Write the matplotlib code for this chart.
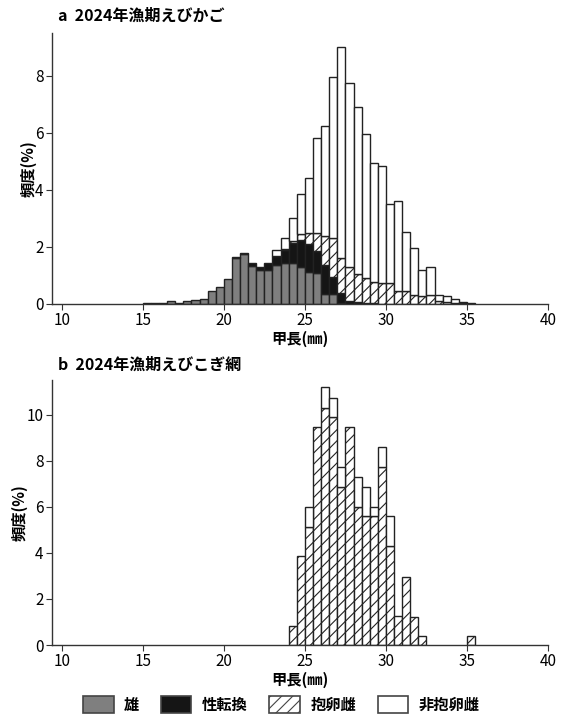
import numpy as np
import matplotlib
matplotlib.use("Agg")
import matplotlib.pyplot as plt
from matplotlib.patches import Patch

plt.rcParams['font.family'] = ['Noto Sans CJK JP', 'DejaVu Sans']
plt.rcParams['hatch.linewidth'] = 0.8

# a: えびかご, bins of 0.5 mm starting at 15.0
binsA = np.arange(15.0, 35.01, 0.5)
maleA = [0.05, 0.05, 0.02, 0.09, 0.04, 0.10, 0.14, 0.16, 0.45, 0.60, 0.89,
         1.62, 1.75, 1.34, 1.19, 1.19, 1.38, 1.45, 1.45, 1.28, 1.13, 1.08,
         0.35, 0.35, 0.05, 0, 0, 0, 0, 0, 0, 0, 0, 0, 0, 0, 0, 0, 0, 0, 0]
transA = [0, 0, 0, 0, 0, 0, 0, 0, 0, 0, 0,
          0.03, 0.04, 0.08, 0.11, 0.25, 0.30, 0.45, 0.70, 0.98, 0.99, 0.77,
          1.00, 0.61, 0.35, 0.12, 0.08, 0.05, 0.02, 0, 0, 0, 0, 0, 0, 0, 0, 0, 0, 0, 0]
ovigA = [0, 0, 0, 0, 0, 0, 0, 0, 0, 0, 0,
         0, 0, 0, 0, 0, 0, 0.02, 0.05, 0.19, 0.38, 0.65,
         1.03, 1.37, 1.22, 1.16, 0.97, 0.85, 0.74, 0.72, 0.72, 0.45, 0.45, 0.31,
         0.27, 0.30, 0.10, 0.07, 0.03, 0.02, 0]
nonovigA = [0, 0, 0, 0, 0, 0, 0, 0, 0, 0, 0,
            0, 0, 0, 0, 0, 0.21, 0.39, 0.82, 1.42, 1.92, 3.33,
            3.86, 5.62, 7.40, 6.49, 5.87, 5.07, 4.19, 4.12, 2.78, 3.16, 2.06, 1.64,
            0.92, 0.98, 0.21, 0.22, 0.14, 0.06, 0.02]

# b: えびこぎ網, bins of 0.5 mm starting at 24.0
binsB = np.arange(24.0, 35.01, 0.5)
ovigB = [0.83, 3.86, 5.14, 9.45, 10.29, 9.88, 6.86, 9.45, 6.01, 5.58, 5.58,
         7.72, 4.28, 1.26, 2.97, 1.23, 0.39, 0, 0, 0, 0, 0, 0.39]
nonovigB = [0, 0, 0.87, 0, 0.90, 0.84, 0.86, 0, 1.27, 1.28, 0.43,
            0.86, 1.30, 0, 0, 0, 0, 0, 0, 0, 0, 0, 0]

labels = ['雄', '性転換', '抱卵雌', '非抱卵雌']
styles = [dict(facecolor='#7f7f7f', hatch=None),
          dict(facecolor='#151515', hatch=None),
          dict(facecolor='white', hatch='///'),
          dict(facecolor='white', hatch=None)]


def stacked(ax, bins, layers):
    bottom = np.zeros(len(bins))
    for vals, st in zip(layers, styles):
        vals = np.array(vals, dtype=float)
        m = vals > 0
        ax.bar(bins[m], vals[m], width=0.5, bottom=bottom[m], align='edge',
               edgecolor='#222222', linewidth=1.0, **st)
        bottom = bottom + vals


def style_axes(ax, ymax, yticks):
    ax.set_xlim(9.4, 40)
    ax.set_ylim(0, ymax)
    ax.set_xticks([10, 15, 20, 25, 30, 35, 40])
    ax.set_yticks(yticks)
    for s in ['top', 'right']:
        ax.spines[s].set_visible(False)
    for s in ['left', 'bottom']:
        ax.spines[s].set_color('#333333')
        ax.spines[s].set_linewidth(1.0)
    ax.tick_params(labelsize=11, length=4, color='#333333', pad=2)
    ax.set_xlabel('甲長(㎜)', fontsize=11, fontweight='bold', labelpad=1)
    ax.set_ylabel('頻度(%)', fontsize=11, fontweight='bold', labelpad=-1)


fig = plt.figure(figsize=(5.63, 7.22), dpi=100)
axA = fig.add_axes([0.0924, 0.579, 0.881, 0.375])
axB = fig.add_axes([0.0924, 0.1066, 0.881, 0.3671])

stacked(axA, binsA, [maleA, transA, ovigA, nonovigA])
zeros = [0] * len(binsB)
stacked(axB, binsB, [zeros, zeros, ovigB, nonovigB])

style_axes(axA, 9.5, [0, 2, 4, 6, 8])
style_axes(axB, 11.5, [0, 2, 4, 6, 8, 10])

fig.text(0.103, 0.978, 'a  2024年漁期えびかご', fontsize=11.5, fontweight='bold',
         va='center', ha='left')
fig.text(0.103, 0.495, 'b  2024年漁期えびこぎ網', fontsize=11.5, fontweight='bold',
         va='center', ha='left')

handles = [Patch(edgecolor='#444444', linewidth=1.2, **st) for st in styles]
fig.legend(handles, labels, loc='center', bbox_to_anchor=(0.5, 0.024), ncol=4,
           frameon=False, handlelength=2.0, handleheight=1.3,
           columnspacing=1.4, handletextpad=0.7,
           prop={'weight': 'bold', 'size': 11})

fig.savefig('out.png', dpi=100)
